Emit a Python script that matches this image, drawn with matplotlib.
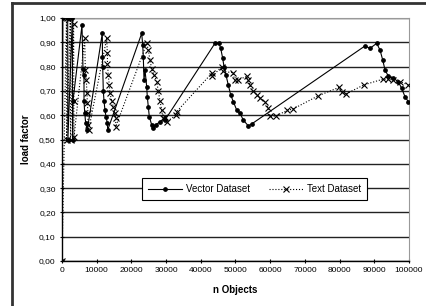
import matplotlib
matplotlib.use("Agg")
import matplotlib.pyplot as plt
from matplotlib.lines import Line2D
from matplotlib.ticker import FuncFormatter

plt.rcParams['font.family'] = ['Liberation Sans', 'DejaVu Sans']

# Vector Dataset (n objects, load factor)
vec_n = [0, 230, 1640, 1700, 2970, 3050, 3170, 5760, 6050, 6340, 6340, 6540, 6830, 7290,
         11610, 11670, 11730, 11900, 12100, 12390, 12680, 13060, 13170,
         22970, 23260, 23430, 23630, 23920, 24410, 24580, 24870, 25160, 25850, 26310, 27000, 28240, 29680,
         44090, 45250, 45740, 46310, 46690, 47260, 47930, 48620, 49370, 50350, 51300, 52250, 53690, 54670,
         87320, 88770, 90690, 91650, 92430, 93090, 94040, 95480, 96920, 97900, 98850, 99800]
vec_lf = [0.0, 1.0, 1.0, 0.5, 1.0, 0.5, 0.66, 0.97, 0.79, 0.765, 0.66, 0.61, 0.567, 0.539,
          0.937, 0.84, 0.80, 0.70, 0.66, 0.62, 0.594, 0.567, 0.539,
          0.937, 0.889, 0.84, 0.745, 0.786, 0.717, 0.676, 0.635, 0.594, 0.56, 0.546, 0.56, 0.573, 0.58,
          0.896, 0.896, 0.875, 0.834, 0.80, 0.765, 0.724, 0.683, 0.656, 0.621, 0.608, 0.58, 0.556, 0.564,
          0.885, 0.875, 0.896, 0.868, 0.827, 0.786, 0.761, 0.752, 0.738, 0.71, 0.676, 0.656]

# Text Dataset
txt_n = [0, 1300, 1350, 2400, 2450, 3350, 3400, 3450,
         6540, 6710, 7000, 7200, 7290, 7490, 7490, 7690,
         12880, 13060, 13110, 13340, 13630, 13830, 14320, 14780, 15270, 15480, 15500,
         24410, 24870, 25360, 25850, 26600, 27290, 27750, 28240, 28730, 29110, 29680, 30170, 32850, 33060,
         43320, 43330, 46030, 46400, 49280, 49770, 50720, 53230, 53610, 54180, 55050, 56110, 57060,
         58500, 59460, 59950, 61680, 64930, 66490, 73870, 79920, 80610, 81760, 87040,
         92430, 93950, 95390, 97410, 99800]
txt_lf = [0.0, 1.0, 0.5, 1.0, 0.5, 0.975, 0.66, 0.51,
          0.916, 0.786, 0.745, 0.69, 0.65, 0.608, 0.56, 0.54,
          0.916, 0.855, 0.81, 0.765, 0.724, 0.69, 0.66, 0.635, 0.608, 0.587, 0.553,
          0.896, 0.868, 0.827, 0.79, 0.765, 0.738, 0.70, 0.66, 0.62, 0.587, 0.594, 0.573, 0.60, 0.615,
          0.775, 0.76, 0.80, 0.78, 0.775, 0.745, 0.745, 0.76, 0.745, 0.725, 0.70, 0.685, 0.67,
          0.655, 0.63, 0.595, 0.597, 0.62, 0.625, 0.68, 0.715, 0.695, 0.687, 0.725,
          0.748, 0.748, 0.745, 0.738, 0.725]

fig = plt.figure(figsize=(4.27, 3.06), dpi=100)
ax = fig.add_axes([62 / 427, 1 - 261 / 306, 347 / 427, 243 / 306])

ax.plot(vec_n, vec_lf, color="black", lw=0.8, marker="o", ms=2.4, label="Vector Dataset", zorder=3)
ax.plot(txt_n, txt_lf, color="black", lw=0.8, ls=":", marker="x", ms=4, mew=0.8,
        label="Text Dataset", zorder=3)

ax.set_xlim(0, 100000)
ax.set_ylim(0, 1.0)
ax.set_xticks(range(0, 100001, 10000))
ax.set_yticks([i / 10 for i in range(11)])
ax.yaxis.set_major_formatter(FuncFormatter(lambda v, p: ("%.2f" % v).replace(".", ",")))
ax.tick_params(labelsize=6, length=3, width=0.8, direction="inout", pad=3, colors="black")
ax.grid(axis="y", color="#222222", lw=1.0)
ax.set_axisbelow(True)
for s in ["top", "right"]:
    ax.spines[s].set_color("#999999")
for s in ["left", "bottom"]:
    ax.spines[s].set_linewidth(1.0)

ax.set_xlabel("n Objects", fontsize=7, fontweight="bold", labelpad=8)
ax.set_ylabel("load factor", fontsize=7, fontweight="bold", labelpad=6)

leg = ax.legend(loc="center", bbox_to_anchor=(0.555, 0.295), ncol=2, fontsize=7,
                frameon=True, fancybox=False, edgecolor="black", framealpha=1,
                handlelength=3.5, handletextpad=0.4, columnspacing=2.0, borderpad=0.6)
leg.get_frame().set_linewidth(0.8)

# outer chart frame
fig.add_artist(Line2D([12 / 427, 1], [1 - 3 / 306, 1 - 3 / 306], color="#333333", lw=2,
                      transform=fig.transFigure))
fig.add_artist(Line2D([12 / 427, 12 / 427], [0, 1 - 3 / 306], color="#333333", lw=2,
                      transform=fig.transFigure))

fig.savefig("out.png", dpi=100)
